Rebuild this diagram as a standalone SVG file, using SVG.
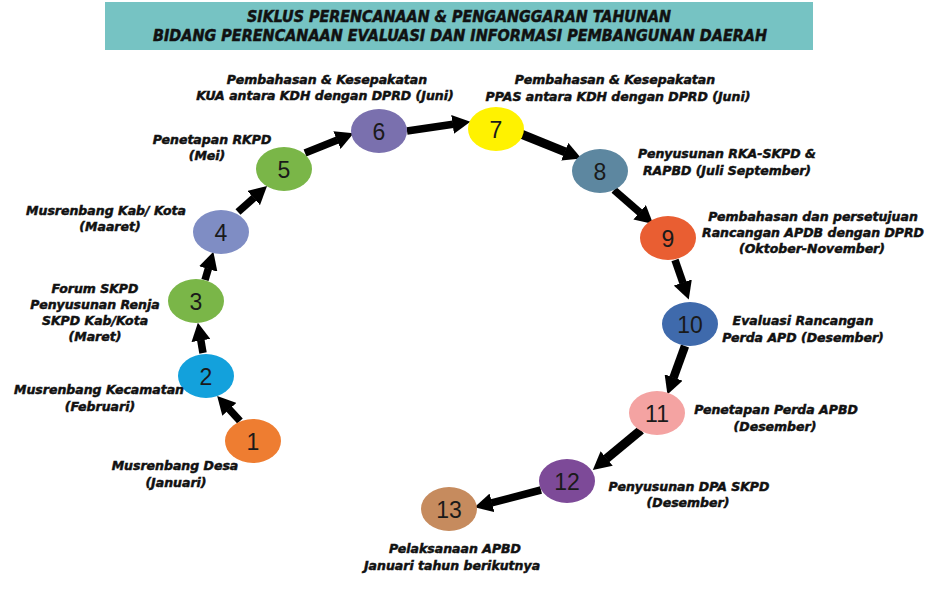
<svg xmlns="http://www.w3.org/2000/svg" width="936" height="595" viewBox="0 0 936 595">
<style>
.num{font-family:"Liberation Sans",Arial,sans-serif;font-size:23px;fill:#1a1a1a;text-anchor:middle;dominant-baseline:central}
.lbl{font-family:"DejaVu Sans","Liberation Sans",sans-serif;font-weight:bold;font-style:oblique;font-size:12.5px;fill:#111;stroke:#111;stroke-width:0.5;text-anchor:middle}
.ttl{font-family:"DejaVu Sans","Liberation Sans",sans-serif;font-weight:bold;font-style:oblique;font-size:15px;fill:#111;stroke:#111;stroke-width:0.5;text-anchor:middle}
.arr{stroke:#000;stroke-width:7.5;fill:none;marker-end:url(#ah)}
</style>
<defs>
<marker id="ah" markerUnits="userSpaceOnUse" markerWidth="18" markerHeight="19" viewBox="0 0 18 19" refX="0.5" refY="9.5" orient="auto">
<path d="M0,0 L18,9.5 L0,19 z" fill="#000"/>
</marker>
</defs>
<rect width="936" height="595" fill="#fff"/>
<g id="title">
<rect x="105" y="2" width="708" height="48" fill="#76c3c3"/>
<text class="ttl" x="459" y="22" textLength="424" lengthAdjust="spacingAndGlyphs">SIKLUS PERENCANAAN &amp; PENGANGGARAN TAHUNAN</text>
<text class="ttl" x="460" y="41" textLength="614" lengthAdjust="spacingAndGlyphs">BIDANG PERENCANAAN EVALUASI DAN INFORMASI PEMBANGUNAN DAERAH</text>
</g>
<g id="connectors">
<line class="arr" x1="240" y1="421" x2="229" y2="409"/>
<line class="arr" x1="203" y1="353" x2="200.8" y2="340"/>
<line class="arr" x1="205" y1="280" x2="208.4" y2="268.5"/>
<line class="arr" x1="238" y1="212" x2="254" y2="197.7"/>
<line class="arr" x1="305" y1="153" x2="337.4" y2="139.9"/>
<line class="arr" x1="407" y1="131" x2="453.1" y2="124.3"/>
<line class="arr" x1="521" y1="134" x2="565.2" y2="151.9" style="stroke-width:9"/>
<line class="arr" x1="614" y1="190" x2="640" y2="212.6"/>
<line class="arr" x1="675" y1="260" x2="683" y2="283"/>
<line class="arr" x1="685" y1="346" x2="673.4" y2="378" style="stroke-width:8.5"/>
<line class="arr" x1="641" y1="430" x2="606.3" y2="458.8" style="stroke-width:9"/>
<line class="arr" x1="541" y1="490" x2="491.5" y2="502.9"/>
</g>
<g id="n1"><ellipse cx="253" cy="441" rx="28" ry="22" fill="#ee7d31"/><text class="num" x="253" y="442">1</text>
<text class="lbl" x="175" y="470">Musrenbang Desa</text><text class="lbl" x="176" y="487">(Januari)</text></g>
<g id="n2"><ellipse cx="206" cy="376" rx="28" ry="22" fill="#13a1dc"/><text class="num" x="206" y="377">2</text>
<text class="lbl" x="99" y="394">Musrenbang Kecamatan</text><text class="lbl" x="100" y="411">(Februari)</text></g>
<g id="n3"><ellipse cx="196" cy="301" rx="28" ry="22" fill="#7ab648"/><text class="num" x="196" y="302">3</text>
<text class="lbl" x="95" y="293">Forum SKPD</text><text class="lbl" x="95" y="309">Penyusunan Renja</text><text class="lbl" x="95" y="325">SKPD Kab/Kota</text><text class="lbl" x="95" y="341">(Maret)</text></g>
<g id="n4"><ellipse cx="221" cy="232" rx="28" ry="22" fill="#7f8dc4"/><text class="num" x="221" y="233">4</text>
<text class="lbl" x="106" y="215">Musrenbang Kab/ Kota</text><text class="lbl" x="110" y="231">(Maaret)</text></g>
<g id="n5"><ellipse cx="284" cy="169" rx="28" ry="22" fill="#7ab648"/><text class="num" x="284" y="170">5</text>
<text class="lbl" x="212" y="144">Penetapan RKPD</text><text class="lbl" x="207" y="160">(Mei)</text></g>
<g id="n6"><ellipse cx="379" cy="131" rx="28" ry="22" fill="#7a70ae"/><text class="num" x="379" y="132">6</text>
<text class="lbl" x="327" y="84">Pembahasan &amp; Kesepakatan</text><text class="lbl" x="325" y="100">KUA antara KDH dengan DPRD (Juni)</text></g>
<g id="n7"><ellipse cx="496" cy="129" rx="28" ry="22" fill="#fff200"/><text class="num" x="496" y="130">7</text>
<text class="lbl" x="615" y="84">Pembahasan &amp; Kesepakatan</text><text class="lbl" x="618" y="101">PPAS antara KDH dengan DPRD (Juni)</text></g>
<g id="n8"><ellipse cx="600" cy="171" rx="28" ry="22" fill="#5d87a0"/><text class="num" x="600" y="172">8</text>
<text class="lbl" x="727" y="158">Penyusunan RKA-SKPD &amp;</text><text class="lbl" x="727" y="175">RAPBD (Juli September)</text></g>
<g id="n9"><ellipse cx="668" cy="238" rx="28" ry="22" fill="#e95e32"/><text class="num" x="668" y="239">9</text>
<text class="lbl" x="813" y="221">Pembahasan dan persetujuan</text><text class="lbl" x="813" y="237">Rancangan APDB dengan DPRD</text><text class="lbl" x="812" y="253">(Oktober-November)</text></g>
<g id="n10"><ellipse cx="690" cy="324" rx="28" ry="22" fill="#3f6aac"/><text class="num" x="690" y="325">10</text>
<text class="lbl" x="803" y="325">Evaluasi Rancangan</text><text class="lbl" x="803" y="342">Perda APD (Desember)</text></g>
<g id="n11"><ellipse cx="657" cy="413" rx="28" ry="22" fill="#f4a3a2"/><text class="num" x="657" y="414">11</text>
<text class="lbl" x="776" y="414">Penetapan Perda APBD</text><text class="lbl" x="775" y="431">(Desember)</text></g>
<g id="n12"><ellipse cx="567" cy="481" rx="28" ry="22" fill="#7d4a98"/><text class="num" x="567" y="482">12</text>
<text class="lbl" x="689" y="491">Penyusunan DPA SKPD</text><text class="lbl" x="688" y="507">(Desember)</text></g>
<g id="n13"><ellipse cx="449" cy="509" rx="28" ry="22" fill="#c68b5e"/><text class="num" x="449" y="510">13</text>
<text class="lbl" x="455" y="553">Pelaksanaan APBD</text><text class="lbl" x="452" y="570">Januari tahun berikutnya</text></g>
</svg>
